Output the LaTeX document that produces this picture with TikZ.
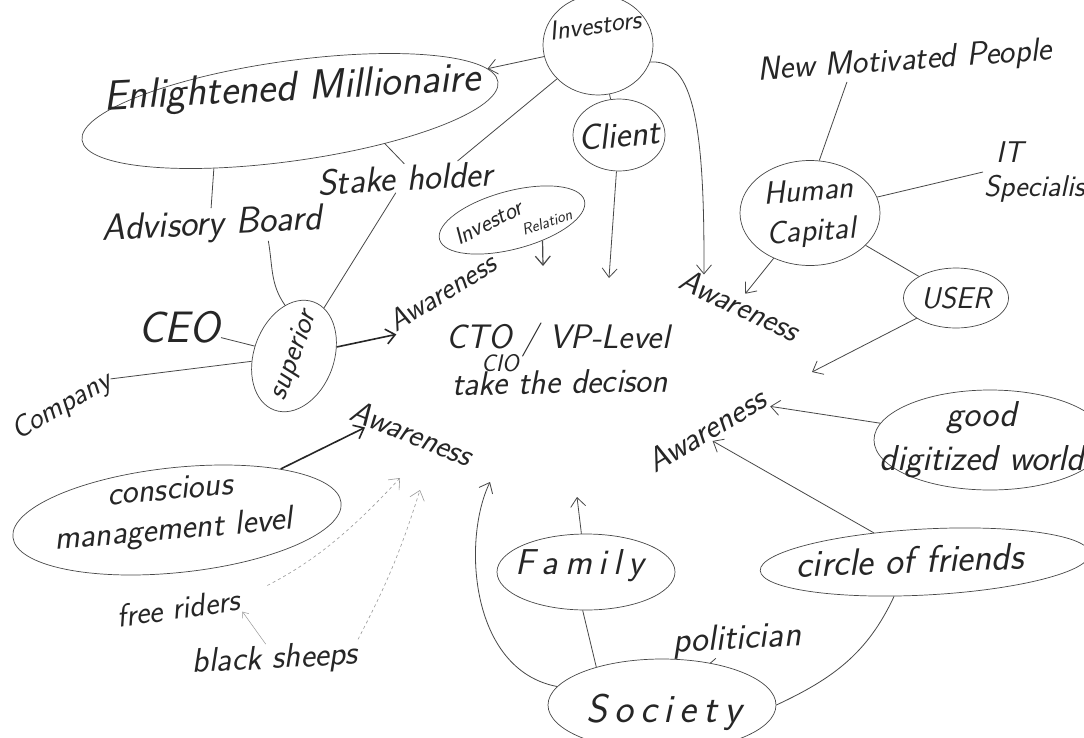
\documentclass[tikz,border=0pt]{standalone}
\usepackage{fontspec}
\usetikzlibrary{arrows.meta, positioning, calc, shapes.geometric}
\colorlet{ink}{black!85}
\colorlet{pencil}{black!72}
\colorlet{pencil_faint}{black!40}
\newcommand\handsize[1]{\fontsize{#1}{#1}\selectfont}
\newcommand\gap{\kern7pt}

\begin{document}
\begin{tikzpicture}
   [
      x=1pt, y=1pt,
      word/.style={font=\sffamily\itshape\handsize{#1}, text=ink, inner sep=1pt},
      word/.default=28,
      blob/.style={ellipse, draw=pencil, line width=0.7pt, inner sep=0pt},
      link/.style={draw=pencil, line width=0.8pt},
      arrow/.style={link, -{Straight Barb[length=9pt, width=15pt]}},
      heavy arrow/.style={arrow, draw=ink, line width=1.6pt},
      faint arrow/.style={arrow, draw=pencil_faint, dashed, line width=0.6pt},
   ]

   \useasboundingbox (0,0) rectangle (1084,-737);
   \fill[white] (0,0) rectangle (1084,-737);

   % =======================================================
   % Top: Investors, Millionaire, Stake holder
   % =======================================================

   \node[blob, minimum width=110, minimum height=100] (investors) at (598,-45) {};
   \node[word=27, rotate=8] (investors_txt) at ([shift={(-3,20)}]investors.center) {Investors};

   \node[blob, rotate=8, minimum width=420, minimum height=100] (millionaire) at (290,-111) {};
   \node[word=42, rotate=3] (millionaire_txt) at (292,-90) {Enlightened Millionaire};

   \node[word=36, rotate=3] (stake) at (405,-178) {Stake holder};
   \node[word=37, rotate=3] (advisory) at (212,-226) {Advisory Board};

   \node[blob, minimum width=92, minimum height=72] (client) at (619,-135) {};
   \node[word=36, rotate=5] (client_txt) at (client.center) {Client};

   \node[blob, rotate=15, minimum width=150, minimum height=58] (inv_rel) at (512,-220) {};
   \node[word=24, rotate=27] (inv_rel_a) at (488,-222) {Investor};
   \node[word=16, rotate=18] (inv_rel_b) at (547,-222) {Relation};

   % =======================================================
   % Left: superior, CEO, Company
   % =======================================================

   \node[blob, rotate=-20, minimum width=80, minimum height=115] (superior) at (294,-356) {};
   \node[word=30, rotate=70] (superior_txt) at (superior.center) {superior};
   \node[word=44] (ceo) at (179,-327) {CEO};
   \node[word=30, rotate=30] (company) at (62,-407) {Company};

   % =======================================================
   % Centre: the decision and the four Awareness
   % =======================================================

   \node[word=34] (cto) at (558,-340) {CTO / VP-Level};
   \node[word=24] (cio) at (500,-363) {CIO};
   \node[word=34, rotate=1] (decision) at (560,-382) {take the decison};

   \node[word=30, rotate=32] (aware_a) at (442,-292) {Awareness};
   \node[word=32, rotate=-25] (aware_b) at (740,-305) {Awareness};
   \node[word=33, rotate=31] (aware_c) at (706,-430) {Awareness};
   \node[word=32, rotate=-22] (aware_d) at (412,-433) {Awareness};

   % =======================================================
   % Right: Human Capital, USER, good digitized world
   % =======================================================

   \node[word=33, rotate=4] (new_people) at (905,-62) {New Motivated People};
   \node[blob, minimum width=140, minimum height=105] (human_cap) at (810,-213) {};
   \node[word=32, align=center, rotate=4] (human_cap_txt) at (human_cap.center) {Human\\[8pt]Capital};
   \node[word=30, align=left, anchor=west] (it_spec) at (983,-172) {\hspace{12pt}IT\\[4pt]Specialist};
   \node[blob, minimum width=105, minimum height=60] (user) at (956,-298) {};
   \node[word=30] (user_txt) at (user.center) {USER};
   \node[blob, minimum width=232, minimum height=100] (good_dig) at (990,-440) {};
   \node[word=36, align=center] (good_dig_txt) at ([shift={(-8,0)}]good_dig.center) {good\\[8pt]digitized world};

   % =======================================================
   % Bottom: friends, Family, Society
   % =======================================================

   \node[blob, rotate=3, minimum width=330, minimum height=66] (friends) at (925,-562) {};
   \node[word=38, rotate=2] (friends_txt) at (910,-560) {circle of friends};
   \node[blob, minimum width=178, minimum height=76] (family) at (586,-572) {};
   \node[word=36] (family_txt) at (580,-566) {F\gap a\gap m\gap i\gap l\gap y};
   \node[blob, minimum width=228, minimum height=92] (society) at (662,-705) {};
   \node[word=40] (society_txt) at (664,-712) {S\gap o\gap c\gap i\gap e\gap t\gap y};
   \node[word=36, rotate=3] (politician) at (737,-640) {politician};

   \node[blob, rotate=6, minimum width=330, minimum height=105] (conscious) at (177,-520) {};
   \node[word=34, align=center, rotate=5] (conscious_txt) at (172,-512) {conscious\\[6pt]management level};
   \node[word=32, rotate=8] (free) at (178,-608) {free riders};
   \node[word=34, rotate=3] (sheeps) at (275,-660) {black sheeps};

   % free ends of arrows
   \coordinate (inv_rel_tip) at (543,-266);
   \coordinate (client_tip) at (609,-278);
   \coordinate (user_tip) at (812,-372);
   \coordinate (family_tip) at (577,-497);
   \coordinate (society_tip) at (490,-482);
   \coordinate (free_tip) at (400,-478);
   \coordinate (sheeps_tip) at (420,-490);

   % =======================================================
   % Connectors
   % =======================================================

   \draw[arrow] (investors) -- (millionaire);
   \draw[link] (investors) -- ($(stake.north)!0.6!(stake.north east)$);
   \draw[link] (millionaire.-27) -- (stake.north);
   \draw[link] (millionaire.209) -- (advisory.north);
   \draw[link] ($(advisory.south)!0.5!(advisory.south east)$) to[out=-80, in=125] (superior.120);
   \draw[link] (stake) -- (superior);
   \draw[link] (ceo) -- (superior);
   \draw[link] (company.east) -- (superior);
   \draw[heavy arrow] (superior) -- (aware_a.south west);

   \draw[arrow, line width=1.2pt] (inv_rel.-49) -- (inv_rel_tip);
   \draw[link] (investors) -- (client);
   \draw[arrow] (client) -- (client_tip);
   \draw[arrow] (investors.-18) .. controls (690,-60) and (705,-110) .. ($(aware_b.north west)!0.3!(aware_b.north)$);

   \draw[link] ($(new_people.south west)!0.6!(new_people.south)$) -- (human_cap.80);
   \draw[link] (human_cap) -- (it_spec.west);
   \draw[link] (human_cap) -- (user);
   \draw[arrow] (human_cap) -- (aware_b.north);
   \draw[arrow] (user) -- (user_tip);
   \draw[arrow] (good_dig) -- (aware_c.south east);

   \draw[arrow] (friends) -- (aware_c.south);
   \draw[link] (friends.225) to[out=-115, in=25] (society.east);
   \draw[link] (politician) -- (society);
   \draw[link] (society.150) -- (family.-95);
   \draw[arrow] (family) -- (family_tip);
   \draw[arrow] (society.170) .. controls (470,-670) and (462,-540) .. (society_tip);

   \draw[heavy arrow] (conscious) -- ($(aware_d.south west)!0.15!(aware_d.south east)$);
   \draw[faint arrow, shorten <=30pt] (free.east) to[bend right=10] (free_tip);
   \draw[faint arrow] (sheeps.north east) to[bend right=5] (sheeps_tip);
   \draw[arrow, draw=pencil_faint, line width=0.5pt, -{Straight Barb[length=5pt, width=8pt]}]
      ($(sheeps.north west)!0.9!(sheeps.north)$) -- (free.south east);

\end{tikzpicture}
\end{document}
